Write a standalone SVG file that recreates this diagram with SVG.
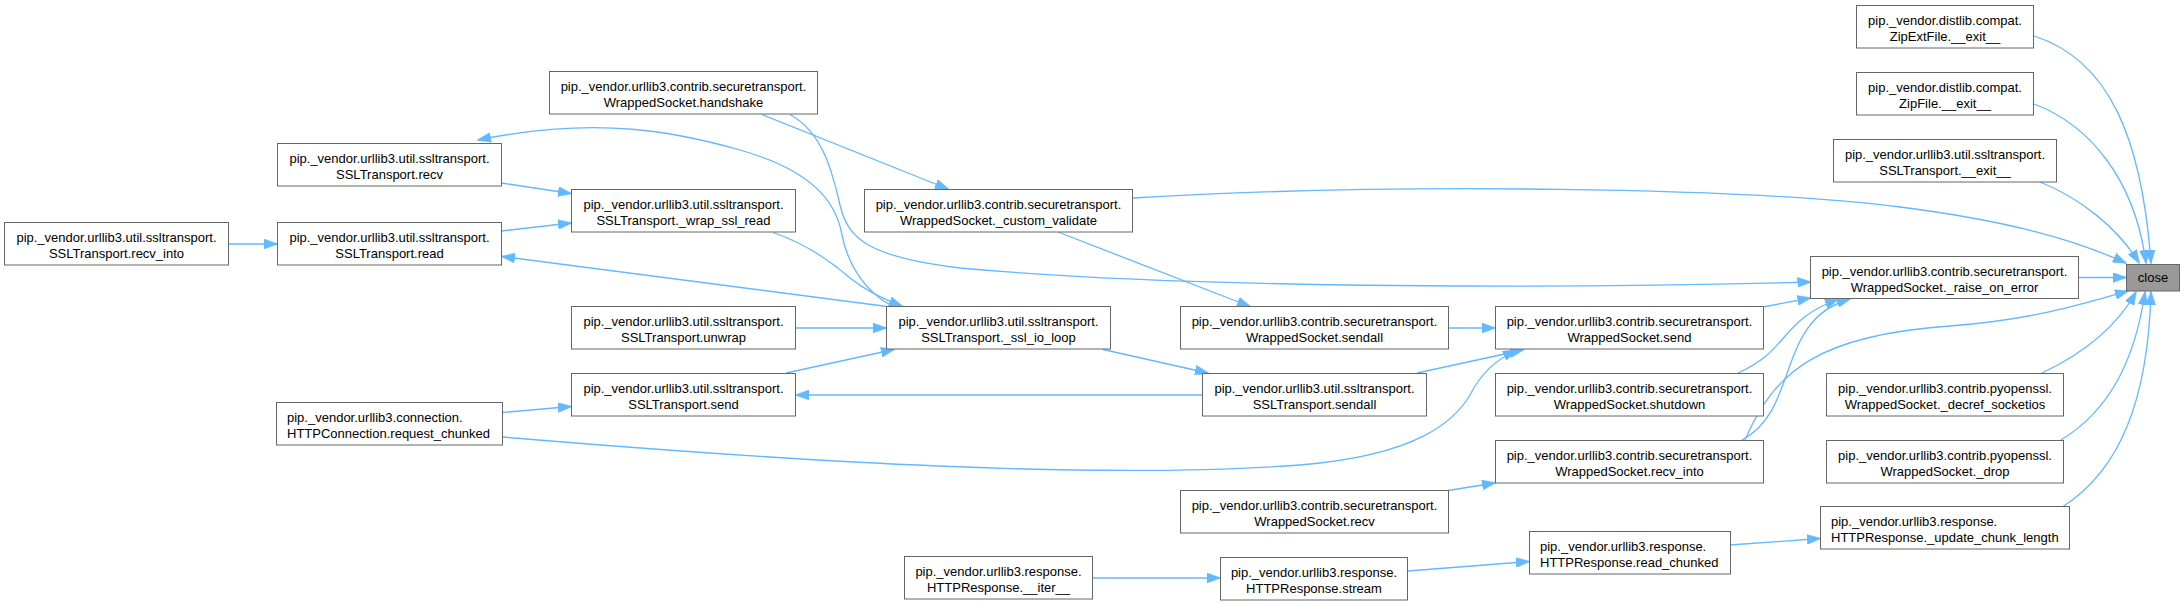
<svg xmlns="http://www.w3.org/2000/svg" width="2184" height="605" viewBox="0 0 2184 605">
<style>
.node rect{fill:#ffffff;stroke:#666666;stroke-width:1}
.node.hl rect{fill:#999999}
.node text{font-family:"Liberation Sans",Arial,sans-serif;font-size:13px;fill:#000000;text-anchor:middle}
.node.left text{text-anchor:start}
.edge path{fill:none;stroke:#63b8ff;stroke-width:1.3;marker-end:url(#ah)}
</style>
<defs>
<marker id="ah" markerUnits="userSpaceOnUse" markerWidth="14" markerHeight="10" viewBox="0 0 14 10" refX="13" refY="5" orient="auto">
<path d="M0,0 L14,5 L0,10 z" fill="#63b8ff" stroke="#63b8ff" stroke-width="0.5"/>
</marker>
</defs>
<rect x="0" y="0" width="2184" height="605" fill="#ffffff"/>
<g id="edges" class="edge">
<path d="M2034,36 C2110,60 2142,140 2151,263"/>
<path d="M2034,104 C2090,125 2135,180 2146,263"/>
<path d="M2040,182 C2080,198 2118,228 2139,263"/>
<path d="M1133,198 C1400,182 1750,188 1900,207 C2010,221 2075,240 2126,263"/>
<path d="M2079,277.5 L2126,277.5"/>
<path d="M1745,440 C1775,370 1820,335 1950,326 C2030,320 2080,305 2128,291"/>
<path d="M2042,373 C2080,355 2115,330 2136,292"/>
<path d="M2061,440 C2110,410 2135,360 2145,292"/>
<path d="M2063,506.5 C2120,470 2148,400 2151,292"/>
<path d="M1763,307 L1810.5,298"/>
<path d="M1738,373 C1790,350 1780,320 1838,299.5"/>
<path d="M1742,440 C1800,410 1775,320 1850,299"/>
<path d="M790,114.5 C822,132 832,170 840,205 C848,240 870,257 960,268 C1200,290 1600,288 1810.5,282"/>
<path d="M1730,545 L1820,538.5"/>
<path d="M1448,328 L1495,328"/>
<path d="M1417,373 L1523,350"/>
<path d="M502,437 C800,462 1100,480 1300,465 C1420,455 1455,420 1470,395 C1480,375 1495,360 1516,350.5"/>
<path d="M1448,490.5 L1495,483"/>
<path d="M1408,571 L1529,561.5"/>
<path d="M1058,232 L1250,306.5"/>
<path d="M1103,349.5 L1208,373"/>
<path d="M1093,578 L1220,578"/>
<path d="M1202,395 L796,395"/>
<path d="M762,114.5 L948,189"/>
<path d="M773,232.5 C810,245 835,265 850,278 C865,290 880,298 902,306"/>
<path d="M795.5,328 L886,328"/>
<path d="M786,373 L894,349.5"/>
<path d="M887,306.5 L502,256.5"/>
<path d="M893,306.5 C865,292 848,265 842,235 C836,200 810,170 740,150 C680,133 600,115 478,140"/>
<path d="M501.5,183 L571,193.5"/>
<path d="M501.5,231 L571,223"/>
<path d="M502,412.5 L571,406.5"/>
<path d="M228.5,244 L277,244"/>
</g>
<g id="n_close" class="node hl"><rect x="2126.5" y="264.5" width="53" height="26.5"/><text x="2153" y="282">close</text></g>
<g id="n_zipextfile_exit" class="node"><rect x="1856.5" y="5.5" width="177" height="42.5"/><text x="1945" y="25">pip._vendor.distlib.compat.</text><text x="1945" y="40.5">ZipExtFile.__exit__</text></g>
<g id="n_zipfile_exit" class="node"><rect x="1856.5" y="72.5" width="177" height="42.5"/><text x="1945" y="92">pip._vendor.distlib.compat.</text><text x="1945" y="107.5">ZipFile.__exit__</text></g>
<g id="n_sslt_exit" class="node"><rect x="1833.5" y="139.5" width="223" height="42.5"/><text x="1945" y="159">pip._vendor.urllib3.util.ssltransport.</text><text x="1945" y="174.5">SSLTransport.__exit__</text></g>
<g id="n_raise_on_error" class="node"><rect x="1810.5" y="256.5" width="268" height="42"/><text x="1944.5" y="276">pip._vendor.urllib3.contrib.securetransport.</text><text x="1944.5" y="291.5">WrappedSocket._raise_on_error</text></g>
<g id="n_decref_socketios" class="node"><rect x="1826.5" y="373.5" width="237" height="42.5"/><text x="1945" y="393">pip._vendor.urllib3.contrib.pyopenssl.</text><text x="1945" y="408.5">WrappedSocket._decref_socketios</text></g>
<g id="n_drop" class="node"><rect x="1826.5" y="440.5" width="237" height="42.5"/><text x="1945" y="460">pip._vendor.urllib3.contrib.pyopenssl.</text><text x="1945" y="475.5">WrappedSocket._drop</text></g>
<g id="n_update_chunk_length" class="node left"><rect x="1820.5" y="506.5" width="249" height="42.5"/><text x="1831" y="526">pip._vendor.urllib3.response.</text><text x="1831" y="541.5">HTTPResponse._update_chunk_length</text></g>
<g id="n_ws_send" class="node"><rect x="1495.5" y="306.5" width="268" height="42.5"/><text x="1629.5" y="326">pip._vendor.urllib3.contrib.securetransport.</text><text x="1629.5" y="341.5">WrappedSocket.send</text></g>
<g id="n_ws_shutdown" class="node"><rect x="1495.5" y="373.5" width="268" height="42.5"/><text x="1629.5" y="393">pip._vendor.urllib3.contrib.securetransport.</text><text x="1629.5" y="408.5">WrappedSocket.shutdown</text></g>
<g id="n_ws_recv_into" class="node"><rect x="1495.5" y="440.5" width="268" height="42.5"/><text x="1629.5" y="460">pip._vendor.urllib3.contrib.securetransport.</text><text x="1629.5" y="475.5">WrappedSocket.recv_into</text></g>
<g id="n_read_chunked" class="node left"><rect x="1529.5" y="531.5" width="201" height="42.5"/><text x="1540" y="551">pip._vendor.urllib3.response.</text><text x="1540" y="566.5">HTTPResponse.read_chunked</text></g>
<g id="n_ws_sendall" class="node"><rect x="1180.5" y="306.5" width="268" height="42.5"/><text x="1314.5" y="326">pip._vendor.urllib3.contrib.securetransport.</text><text x="1314.5" y="341.5">WrappedSocket.sendall</text></g>
<g id="n_sslt_sendall" class="node"><rect x="1202.5" y="373.5" width="224" height="42.5"/><text x="1314.5" y="393">pip._vendor.urllib3.util.ssltransport.</text><text x="1314.5" y="408.5">SSLTransport.sendall</text></g>
<g id="n_ws_recv" class="node"><rect x="1180.5" y="490.5" width="268" height="42.5"/><text x="1314.5" y="510">pip._vendor.urllib3.contrib.securetransport.</text><text x="1314.5" y="525.5">WrappedSocket.recv</text></g>
<g id="n_stream" class="node"><rect x="1220.5" y="557.5" width="187" height="42.5"/><text x="1314" y="577">pip._vendor.urllib3.response.</text><text x="1314" y="592.5">HTTPResponse.stream</text></g>
<g id="n_custom_validate" class="node"><rect x="864.5" y="189.5" width="268" height="42.5"/><text x="998.5" y="209">pip._vendor.urllib3.contrib.securetransport.</text><text x="998.5" y="224.5">WrappedSocket._custom_validate</text></g>
<g id="n_ssl_io_loop" class="node"><rect x="886.5" y="306.5" width="224" height="42.5"/><text x="998.5" y="326">pip._vendor.urllib3.util.ssltransport.</text><text x="998.5" y="341.5">SSLTransport._ssl_io_loop</text></g>
<g id="n_iter" class="node"><rect x="904.5" y="556.5" width="188" height="42.5"/><text x="998.5" y="576">pip._vendor.urllib3.response.</text><text x="998.5" y="591.5">HTTPResponse.__iter__</text></g>
<g id="n_handshake" class="node"><rect x="549.5" y="71.5" width="268" height="42.5"/><text x="683.5" y="91">pip._vendor.urllib3.contrib.securetransport.</text><text x="683.5" y="106.5">WrappedSocket.handshake</text></g>
<g id="n_wrap_ssl_read" class="node"><rect x="571.5" y="189.5" width="224" height="42.5"/><text x="683.5" y="209">pip._vendor.urllib3.util.ssltransport.</text><text x="683.5" y="224.5">SSLTransport._wrap_ssl_read</text></g>
<g id="n_unwrap" class="node"><rect x="571.5" y="306.5" width="224" height="42.5"/><text x="683.5" y="326">pip._vendor.urllib3.util.ssltransport.</text><text x="683.5" y="341.5">SSLTransport.unwrap</text></g>
<g id="n_sslt_send" class="node"><rect x="571.5" y="373.5" width="224" height="42.5"/><text x="683.5" y="393">pip._vendor.urllib3.util.ssltransport.</text><text x="683.5" y="408.5">SSLTransport.send</text></g>
<g id="n_sslt_recv" class="node"><rect x="277.5" y="143.5" width="224" height="42.5"/><text x="389.5" y="163">pip._vendor.urllib3.util.ssltransport.</text><text x="389.5" y="178.5">SSLTransport.recv</text></g>
<g id="n_sslt_read" class="node"><rect x="277.5" y="222.5" width="224" height="42.5"/><text x="389.5" y="242">pip._vendor.urllib3.util.ssltransport.</text><text x="389.5" y="257.5">SSLTransport.read</text></g>
<g id="n_request_chunked" class="node left"><rect x="276.5" y="402.5" width="226" height="42.5"/><text x="287" y="422">pip._vendor.urllib3.connection.</text><text x="287" y="437.5">HTTPConnection.request_chunked</text></g>
<g id="n_sslt_recv_into" class="node"><rect x="4.5" y="222.5" width="224" height="42.5"/><text x="116.5" y="242">pip._vendor.urllib3.util.ssltransport.</text><text x="116.5" y="257.5">SSLTransport.recv_into</text></g>
</svg>
